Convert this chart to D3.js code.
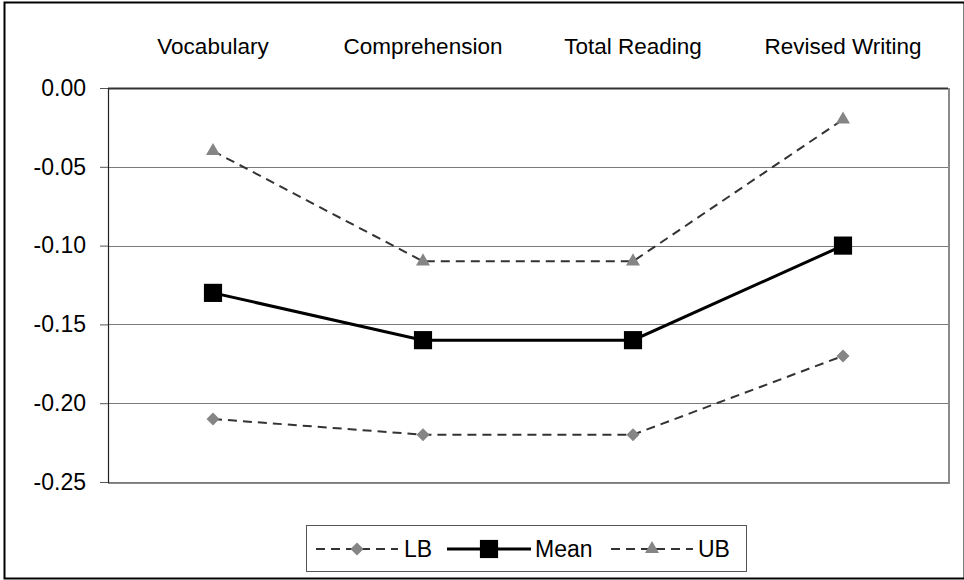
<!DOCTYPE html>
<html>
<head>
<meta charset="utf-8">
<script src="https://cdn.jsdelivr.net/npm/d3@7"></script>
<style>
  html, body { margin: 0; padding: 0; background: #fff; }
  svg { display: block; font-family: "Liberation Sans", Arial, sans-serif; }
</style>
</head>
<body>
<svg id="chart" width="964" height="580"></svg>
<script>
// Effect estimates with lower/upper bounds, one point per outcome.
const categories = ['Vocabulary', 'Comprehension', 'Total Reading', 'Revised Writing'];
const lbValues = [-0.21, -0.22, -0.22, -0.17];
const meanValues = [-0.13, -0.16, -0.16, -0.10];
const ubValues = [-0.04, -0.11, -0.11, -0.02];
const yTicks = [0, -0.05, -0.10, -0.15, -0.20, -0.25];

const SERIES = [
  { key: 'LB', values: lbValues, marker: 'diamond' },
  { key: 'Mean', values: meanValues, marker: 'square' },
  { key: 'UB', values: ubValues, marker: 'triangle' },
];

const STYLE = {
  LB: { stroke: '#333', width: 2, dash: '9,6', fill: '#858585', size: 85 },
  Mean: { stroke: '#000', width: 3, dash: null, fill: '#000', size: 330 },
  UB: { stroke: '#333', width: 2, dash: '9,6', fill: '#858585', size: 85 },
};

const FONT = '"Liberation Sans", Arial, sans-serif';
const hyphen = (d) => d3.format('.2f')(d).replace('\u2212', '-');

const svg = d3.select('#chart');

// outer chart frame
svg.append('rect')
  .attr('x', 4.5).attr('y', 2.5).attr('width', 960).attr('height', 576)
  .attr('fill', '#fff').attr('stroke', '#000').attr('stroke-width', 2);

const plot = { left: 108, top: 88, right: 948, bottom: 482 };

const x = d3.scaleBand().domain(categories).range([plot.left, plot.right]);
const y = d3.scaleLinear().domain([-0.25, 0]).range([plot.bottom, plot.top]);

// plot area shadow edges (right + bottom)
svg.append('path')
  .attr('d', `M${plot.right + 1},${plot.top}V${plot.bottom + 1}H${plot.left}`)
  .attr('fill', 'none').attr('stroke', '#8a8a8a').attr('stroke-width', 2);

// gridlines
svg.append('g')
  .selectAll('line')
  .data(yTicks)
  .join('line')
  .attr('x1', plot.left).attr('x2', plot.right)
  .attr('y1', (d) => Math.round(y(d)) + 0.5).attr('y2', (d) => Math.round(y(d)) + 0.5)
  .attr('stroke', (d) => (d === 0 ? '#333' : '#7a7a7a'))
  .attr('stroke-width', (d) => (d === 0 ? 2 : 1.2));

// y axis
const yAxis = svg.append('g')
  .attr('transform', `translate(${plot.left},0)`)
  .call(d3.axisLeft(y).tickValues(yTicks).tickFormat(hyphen).tickSize(8).tickPadding(14));
yAxis.select('.domain').attr('stroke', '#222').attr('stroke-width', 1.2);
yAxis.selectAll('.tick line').attr('stroke', '#555');
yAxis.selectAll('.tick text').attr('font-size', 23).attr('fill', '#000').attr('font-family', FONT);

// category labels along the top
const xAxis = svg.append('g')
  .attr('transform', `translate(0,${plot.top})`)
  .call(d3.axisTop(x).tickSize(0).tickPadding(34));
xAxis.select('.domain').remove();
xAxis.selectAll('.tick text').attr('font-size', 22.5).attr('fill', '#000').attr('font-family', FONT);

const cx = (i) => x(categories[i]) + x.bandwidth() / 2;

const symbolType = { diamond: d3.symbolSquare, square: d3.symbolSquare, triangle: d3.symbolTriangle };

function drawMarker(sel, series, tx, ty) {
  const st = STYLE[series.key];
  const rot = series.marker === 'diamond' ? ' rotate(45)' : '';
  sel.append('path')
    .attr('d', d3.symbol().type(symbolType[series.marker]).size(st.size)())
    .attr('transform', `translate(${tx},${ty})${rot}`)
    .attr('fill', st.fill);
}

const line = d3.line().x((d, i) => cx(i)).y((d) => y(d));

SERIES.forEach((s) => {
  const st = STYLE[s.key];
  svg.append('path')
    .datum(s.values)
    .attr('fill', 'none')
    .attr('stroke', st.stroke)
    .attr('stroke-width', st.width)
    .attr('stroke-dasharray', st.dash)
    .attr('d', line);
  const g = svg.append('g');
  s.values.forEach((v, i) => drawMarker(g, s, cx(i), y(v)));
});

// legend
const legend = svg.append('g');
legend.append('rect')
  .attr('x', 306.5).attr('y', 525.5).attr('width', 440).attr('height', 46)
  .attr('fill', '#fff').attr('stroke', '#555').attr('stroke-width', 1);

const legendItems = [
  { series: SERIES[0], x0: 316, x1: 398, tx: 404 },
  { series: SERIES[1], x0: 447, x1: 531, tx: 535 },
  { series: SERIES[2], x0: 611, x1: 693, tx: 698 },
];
const ly = 549;
legendItems.forEach((it) => {
  const st = STYLE[it.series.key];
  legend.append('line')
    .attr('x1', it.x0).attr('x2', it.x1).attr('y1', ly).attr('y2', ly)
    .attr('stroke', st.stroke).attr('stroke-width', st.width)
    .attr('stroke-dasharray', st.dash);
  drawMarker(legend, it.series, (it.x0 + it.x1) / 2, ly);
  legend.append('text')
    .attr('x', it.tx).attr('y', ly)
    .attr('dy', '0.35em')
    .attr('font-size', 23)
    .attr('font-family', FONT)
    .text(it.series.key);
});
</script>
</body>
</html>
